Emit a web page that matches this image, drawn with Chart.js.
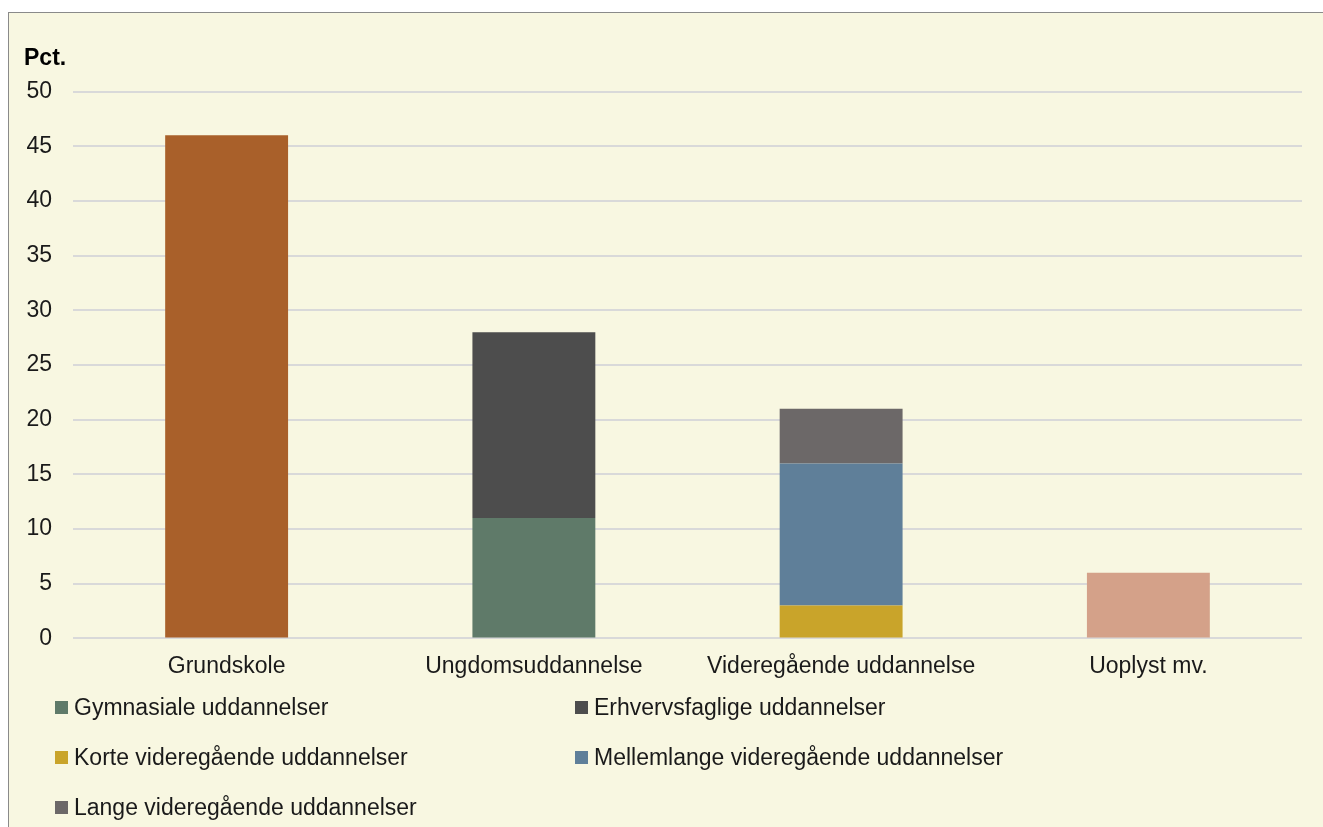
<!DOCTYPE html>
<html>
<head>
<meta charset="utf-8">
<script src="https://cdn.jsdelivr.net/npm/chart.js@4/dist/chart.umd.min.js"></script>
<style>
  html, body { margin: 0; padding: 0; background: #fff; overflow: hidden; }
  body { width: 1323px; height: 827px; position: relative; font-family: "Liberation Sans", Arial, sans-serif; }
  .frame { position: absolute; left: 8px; top: 12px; width: 1400px; height: 900px;
           border: 1px solid #8a8a8a; background: #f8f7e1; }
  .wrap { position: absolute; left: 0; top: 0; width: 1323px; height: 827px; }
  #legend { position: absolute; left: 55px; top: 682px; width: 1100px;
            display: grid; grid-template-columns: 520px 520px; row-gap: 0; }
  #legend .item { height: 50px; display: flex; align-items: center; font-size: 23px;
                  color: #1a1a1a; white-space: nowrap; }
  #legend .box { width: 13px; height: 13px; margin-right: 6px; flex: none; }
</style>
</head>
<body>
<div class="frame"></div>
<div class="wrap"><canvas id="chartUddannelse" width="1323" height="827"></canvas></div>
<div id="legend"></div>
<script>
// data
const categories = ["Grundskole", "Ungdomsuddannelse", "Videregående uddannelse", "Uoplyst mv."];
const grundskole      = [46, null, null, null];
const gymnasiale      = [null, 11, null, null];
const erhvervsfaglige = [null, 17, null, null];
const korteVid        = [null, null, 3, null];
const mellemlangeVid  = [null, null, 13, null];
const langeVid        = [null, null, 5, null];
const uoplyst         = [null, null, null, 6];
const yMax = 50;
const yStep = 5;

const series = [
    { label: "Grundskole", data: grundskole, color: "#a9602a", legend: false },
    { label: "Gymnasiale uddannelser", data: gymnasiale, color: "#5f7a69", legend: true },
    { label: "Erhvervsfaglige uddannelser", data: erhvervsfaglige, color: "#4d4d4d", legend: true },
    { label: "Korte videregående uddannelser", data: korteVid, color: "#c9a42a", legend: true },
    { label: "Mellemlange videregående uddannelser", data: mellemlangeVid, color: "#5f7f99", legend: true },
    { label: "Lange videregående uddannelser", data: langeVid, color: "#6c6868", legend: true },
    { label: "Uoplyst mv.", data: uoplyst, color: "#d4a189", legend: false }
];

document.addEventListener("DOMContentLoaded", () => {
    initChart();
});

function initChart() {
    const ctx = document.getElementById("chartUddannelse");
    Chart.defaults.font.family = '"Liberation Sans", Arial, sans-serif';
    Chart.defaults.color = "#1a1a1a";

    const chart = new Chart(ctx, {
        type: "bar",
        data: {
            labels: categories,
            datasets: series.map(s => ({
                label: s.label,
                data: s.data,
                backgroundColor: s.color,
                borderWidth: 0,
                categoryPercentage: 0.4,
                barPercentage: 1,
                skipNull: true
            }))
        },
        options: {
            responsive: false,
            animation: false,
            layout: { padding: { top: 45, left: 24, right: 21, bottom: 141 } },
            scales: {
                x: {
                    stacked: true,
                    grid: { display: false },
                    border: { display: false },
                    ticks: { font: { size: 23 }, padding: 6, maxRotation: 0 }
                },
                y: {
                    stacked: true,
                    min: 0,
                    max: yMax,
                    ticks: { stepSize: yStep, font: { size: 23 }, padding: 21 },
                    grid: { color: "#d9d9d9", lineWidth: 2, drawTicks: false },
                    border: { display: false },
                    afterFit: scale => { scale.width = 49; }
                }
            },
            plugins: {
                legend: { display: false },
                tooltip: { enabled: false },
                title: {
                    display: true,
                    text: "Pct.",
                    align: "start",
                    color: "#000",
                    font: { size: 23, weight: "bold" },
                    padding: { top: 0, bottom: 19 }
                }
            }
        }
    });

    // legend in two columns, only subcategories
    const legendEl = document.getElementById("legend");
    chart.data.datasets.forEach((ds, i) => {
        if (!series[i].legend) return;
        const item = document.createElement("div");
        item.className = "item";
        const box = document.createElement("span");
        box.className = "box";
        box.style.background = ds.backgroundColor;
        item.appendChild(box);
        item.appendChild(document.createTextNode(ds.label));
        legendEl.appendChild(item);
    });
}
</script>
</body>
</html>
